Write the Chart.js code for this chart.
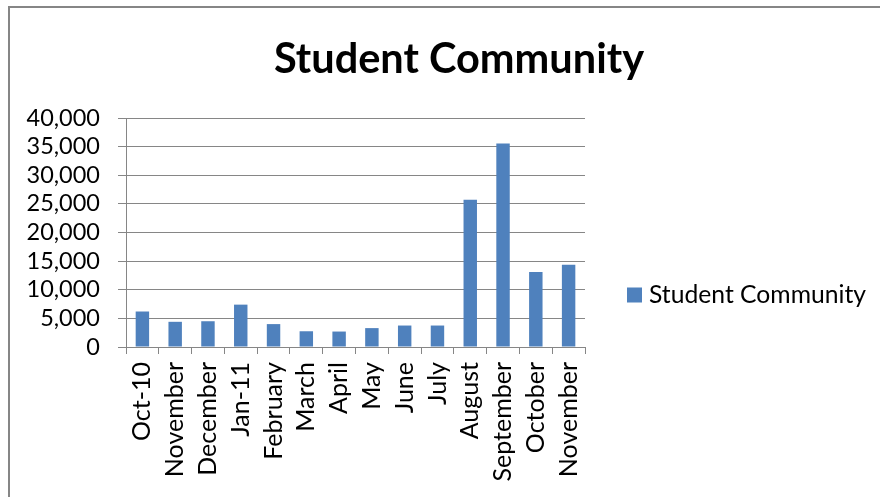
<!DOCTYPE html>
<html>
<head>
<meta charset="utf-8">
<script src="https://cdn.jsdelivr.net/npm/chart.js@4/dist/chart.umd.min.js"></script>
<style>
    html, body { margin: 0; padding: 0; background: #fff; }
    #wrap { position: relative; width: 880px; height: 497px; }
    #frame { position: absolute; left: 8px; top: 6px; right: -4px; bottom: -4px;
             border-top: 2px solid #868686; border-left: 2px solid #868686; }
    canvas { position: absolute; left: 0; top: 0; }
</style>
</head>
<body>
<div id="wrap">
    <canvas id="studentChart" width="880" height="497"></canvas>
    <div id="frame"></div>
</div>
<script>
const chartTitle = 'Student Community';
const seriesName = 'Student Community';
const months = ['Oct-10', 'November', 'December', 'Jan-11', 'February', 'March', 'April',
                'May', 'June', 'July', 'August', 'September', 'October', 'November'];
const visits = [6200, 4400, 4500, 7400, 4000, 2750, 2700, 3300, 3750, 3750, 25700, 35550, 13100, 14350];
const yMax = 40000;
const yStep = 5000;

document.addEventListener('DOMContentLoaded', function() {
    const gridGray = '#868686';
    const barBlue = '#4F81BD';
    const fontFamily = 'Lato, "Open Sans", sans-serif';

    // title and legend drawn by hand so they sit where Excel put them
    const excelDecor = {
        id: 'excelDecor',
        afterDraw(chart, args, opts) {
            const ctx = chart.ctx;
            ctx.save();
            ctx.fillStyle = '#000';
            ctx.font = 'bold ' + opts.titleSize + 'px ' + fontFamily;
            ctx.textAlign = 'center';
            ctx.textBaseline = 'alphabetic';
            ctx.fillText(opts.title, opts.titleX, opts.titleY);

            const ds = chart.data.datasets[0];
            const lx = chart.chartArea.right + opts.legendGap;
            const ly = opts.legendY;
            ctx.fillStyle = ds.backgroundColor;
            ctx.fillRect(lx, ly - 7.5, 15, 15);
            ctx.fillStyle = '#000';
            ctx.font = opts.legendSize + 'px ' + fontFamily;
            ctx.textAlign = 'left';
            ctx.textBaseline = 'middle';
            ctx.fillText(ds.label, lx + 22, ly);
            ctx.restore();
        }
    };

    new Chart(document.getElementById('studentChart'), {
        type: 'bar',
        data: {
            labels: months,
            datasets: [{
                label: seriesName,
                data: visits,
                backgroundColor: barBlue,
                borderWidth: 0,
                barPercentage: 0.41,
                categoryPercentage: 1.0
            }]
        },
        options: {
            responsive: false,
            animation: false,
            layout: {
                padding: { left: 0, right: 295, top: 118, bottom: 0 }
            },
            scales: {
                x: {
                    grid: {
                        display: true,
                        offset: true,
                        drawOnChartArea: false,
                        drawTicks: true,
                        tickLength: 7,
                        color: gridGray
                    },
                    border: { color: gridGray, width: 1 },
                    ticks: {
                        color: '#000',
                        font: { family: fontFamily, size: 25 },
                        minRotation: 90,
                        maxRotation: 90,
                        autoSkip: false,
                        padding: 8
                    },
                    afterFit: function(scale) { scale.height = 150; }
                },
                y: {
                    min: 0,
                    max: yMax,
                    ticks: {
                        stepSize: yStep,
                        autoSkip: false,
                        color: '#000',
                        font: { family: fontFamily, size: 23.5 },
                        padding: 18
                    },
                    grid: {
                        color: gridGray,
                        tickLength: 8
                    },
                    border: { color: gridGray, width: 1 },
                    afterFit: function(scale) { scale.width = 126; }
                }
            },
            plugins: {
                title: { display: false },
                legend: { display: false },
                tooltip: { enabled: false },
                excelDecor: {
                    title: chartTitle, titleSize: 41.5, titleX: 459, titleY: 73,
                    legendSize: 24.7, legendGap: 42, legendY: 295
                }
            }
        },
        plugins: [excelDecor]
    });
});
</script>
</body>
</html>
